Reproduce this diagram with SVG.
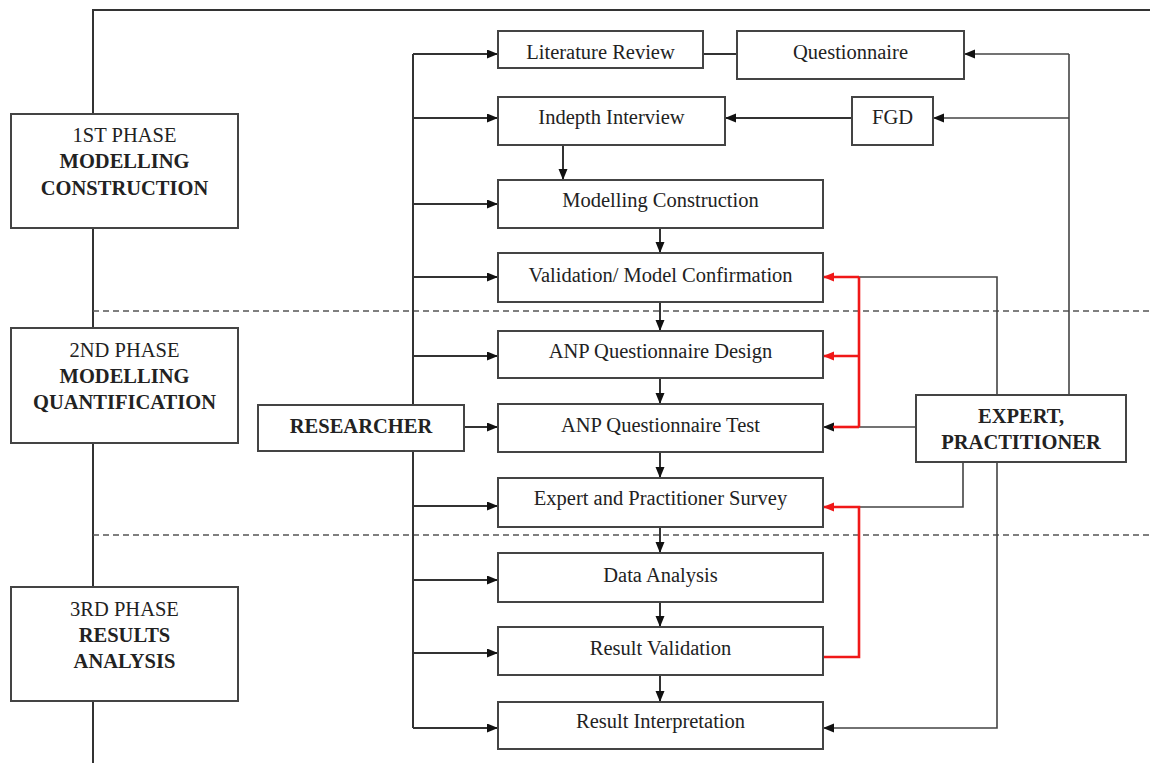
<svg xmlns="http://www.w3.org/2000/svg" width="1150" height="763" viewBox="0 0 1150 763">
<style>
.bx{fill:#fff;stroke:#444;stroke-width:2}
.t{font-family:"Liberation Serif","Times New Roman",serif;font-size:20.5px;fill:#222;text-anchor:middle}
.b{font-weight:bold}
.ln{fill:none;stroke:#333;stroke-width:2}
.ex{fill:none;stroke:#444;stroke-width:1.6}
.rd{fill:none;stroke:#f01818;stroke-width:2.6}
.ds{fill:none;stroke:#555;stroke-width:1.6;stroke-dasharray:6 4}
</style>
<defs>
<marker id="ab" markerUnits="userSpaceOnUse" markerWidth="12" markerHeight="10" refX="11" refY="4.5" orient="auto"><path d="M0,0 L11,4.5 L0,9 z" fill="#111"/></marker>
<marker id="ar" markerUnits="userSpaceOnUse" markerWidth="12" markerHeight="10" refX="11" refY="4.5" orient="auto"><path d="M0,0 L11,4.5 L0,9 z" fill="#f01818"/></marker>
</defs>
<g id="connectors">
<path class="ln" d="M93,763 V10 H1150"/>
<path class="ds" d="M93,311 H1150 M93,535 H1150"/>
<path class="ln" d="M413,54 V728"/>
<path class="ln" marker-end="url(#ab)" d="M413,54 H498"/>
<path class="ln" marker-end="url(#ab)" d="M413,118 H498"/>
<path class="ln" marker-end="url(#ab)" d="M413,204 H498"/>
<path class="ln" marker-end="url(#ab)" d="M413,277 H498"/>
<path class="ln" marker-end="url(#ab)" d="M413,356 H498"/>
<path class="ln" marker-end="url(#ab)" d="M464,427 H498"/>
<path class="ln" marker-end="url(#ab)" d="M413,506 H498"/>
<path class="ln" marker-end="url(#ab)" d="M413,580 H498"/>
<path class="ln" marker-end="url(#ab)" d="M413,653 H498"/>
<path class="ln" marker-end="url(#ab)" d="M413,728 H498"/>
<path class="ln" d="M703,54 H737"/>
<path class="ln" marker-end="url(#ab)" d="M852,118 H725"/>
<path class="ln" marker-end="url(#ab)" d="M563,145 V180"/>
<path class="ln" marker-end="url(#ab)" d="M660,228 V253"/>
<path class="ln" marker-end="url(#ab)" d="M660,302 V331"/>
<path class="ln" marker-end="url(#ab)" d="M660,378 V404"/>
<path class="ln" marker-end="url(#ab)" d="M660,452 V478"/>
<path class="ln" marker-end="url(#ab)" d="M660,527 V553"/>
<path class="ln" marker-end="url(#ab)" d="M660,602 V627"/>
<path class="ln" marker-end="url(#ab)" d="M660,675 V702"/>
<path class="ex" d="M1069,395 V54"/>
<path class="ex" marker-end="url(#ab)" d="M1069,54 H964"/>
<path class="ex" marker-end="url(#ab)" d="M1069,118 H933"/>
<path class="ex" d="M997,395 V277 H859"/>
<path class="ex" marker-end="url(#ab)" d="M916,427 H823"/>
<path class="ex" d="M963,462 V507 H859"/>
<path class="ex" marker-end="url(#ab)" d="M997,462 V728 H823"/>
<path class="rd" d="M859,427 V277"/>
<path class="rd" d="M859,427 H833"/>
<path class="rd" marker-end="url(#ar)" d="M859,277 H823"/>
<path class="rd" marker-end="url(#ar)" d="M859,356 H823"/>
<path class="rd" marker-end="url(#ar)" d="M823,657 H859 V507 H823"/>
</g>
<g id="phase1"><rect class="bx" x="11" y="114" width="227" height="114"/><text class="t" x="124.5" y="142">1ST PHASE</text><text class="t b" x="124.5" y="168">MODELLING</text><text class="t b" x="124.5" y="195">CONSTRUCTION</text></g>
<g id="phase2"><rect class="bx" x="11" y="328" width="227" height="115"/><text class="t" x="124.5" y="357">2ND PHASE</text><text class="t b" x="124.5" y="383">MODELLING</text><text class="t b" x="124.5" y="409">QUANTIFICATION</text></g>
<g id="phase3"><rect class="bx" x="11" y="587" width="227" height="114"/><text class="t" x="124.5" y="616">3RD PHASE</text><text class="t b" x="124.5" y="642">RESULTS</text><text class="t b" x="124.5" y="668">ANALYSIS</text></g>
<g id="researcher"><rect class="bx" x="258" y="405" width="206" height="46"/><text class="t b" x="361" y="433">RESEARCHER</text></g>
<g id="expert"><rect class="bx" x="916" y="395" width="210" height="67"/><text class="t b" x="1021" y="423">EXPERT,</text><text class="t b" x="1021" y="449">PRACTITIONER</text></g>
<g id="literature"><rect class="bx" x="498" y="31" width="205" height="37"/><text class="t" x="600.5" y="59">Literature Review</text></g>
<g id="questionnaire"><rect class="bx" x="737" y="31" width="227" height="48"/><text class="t" x="850.5" y="59">Questionnaire</text></g>
<g id="indepth"><rect class="bx" x="498" y="97" width="227" height="48"/><text class="t" x="611.5" y="124">Indepth Interview</text></g>
<g id="fgd"><rect class="bx" x="852" y="97" width="81" height="48"/><text class="t" x="892.5" y="124">FGD</text></g>
<g id="modelling"><rect class="bx" x="498" y="180" width="325" height="48"/><text class="t" x="660.5" y="207">Modelling Construction</text></g>
<g id="validation"><rect class="bx" x="498" y="253" width="325" height="49"/><text class="t" x="660.5" y="282">Validation/ Model Confirmation</text></g>
<g id="anpdesign"><rect class="bx" x="498" y="331" width="325" height="47"/><text class="t" x="660.5" y="358">ANP Questionnaire Design</text></g>
<g id="anptest"><rect class="bx" x="498" y="404" width="325" height="48"/><text class="t" x="660.5" y="432">ANP Questionnaire Test</text></g>
<g id="survey"><rect class="bx" x="498" y="478" width="325" height="49"/><text class="t" x="660.5" y="505">Expert and Practitioner Survey</text></g>
<g id="dataanalysis"><rect class="bx" x="498" y="553" width="325" height="49"/><text class="t" x="660.5" y="582">Data Analysis</text></g>
<g id="resultvalidation"><rect class="bx" x="498" y="627" width="325" height="48"/><text class="t" x="660.5" y="655">Result Validation</text></g>
<g id="resultinterpretation"><rect class="bx" x="498" y="702" width="325" height="47"/><text class="t" x="660.5" y="728">Result Interpretation</text></g>
</svg>
